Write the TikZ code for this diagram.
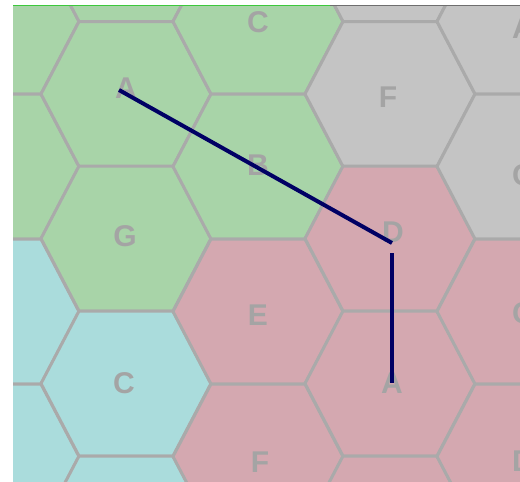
\documentclass[tikz,border=0pt]{standalone}
\usepackage{fontspec}
\setsansfont{Liberation Sans}
\definecolor{cellGreen}{RGB}{168,212,168}
\definecolor{cellGrey}{RGB}{196,196,196}
\definecolor{cellPink}{RGB}{212,168,176}
\definecolor{cellTeal}{RGB}{170,220,220}
\definecolor{edgeGrey}{RGB}{170,170,170}
\definecolor{tagGrey}{RGB}{164,164,164}
\definecolor{routeBlue}{RGB}{0,0,100}
\tikzset{
  pics/hexcell/.style={code={
    \path[draw=edgeGrey, line width=1.5pt, line join=round, fill=#1]
      (-85,0) -- (-47,-72.5) -- (47,-72.5) -- (85,0) -- (47,72.5) -- (-47,72.5) -- cycle;
  }},
  tag/.style={
    text=tagGrey,
    inner sep=0pt,
    font=\sffamily\bfseries\fontsize{15}{18}\selectfont
  },
  route/.style={draw=routeBlue, line width=2pt},
}

\begin{document}
\begin{tikzpicture}[x=0.5pt,y=-0.5pt]

\fill[white] (0,0) rectangle (520,482);
\path[use as bounding box] (0,0) rectangle (520,482);

\begin{scope}
\clip (13,5) rectangle (520,482);

% column 0
\pic at (-6,21.5) {hexcell=cellGreen};
\pic at (-6,166.5) {hexcell=cellGreen};
\pic at (-6,311.5) {hexcell=cellTeal};
\pic at (-6,456.5) {hexcell=cellTeal};
% column 1
\pic at (126,-51) {hexcell=cellGreen};
\pic at (126,94) {hexcell=cellGreen};
\pic at (126,238.5) {hexcell=cellGreen};
\pic at (126,383.5) {hexcell=cellTeal};
\pic at (126,528.5) {hexcell=cellTeal};
% column 2
\pic at (258,21.5) {hexcell=cellGreen};
\pic at (258,166.5) {hexcell=cellGreen};
\pic at (258,311.5) {hexcell=cellPink};
\pic at (258,456.5) {hexcell=cellPink};
% column 3
\pic at (390,-51) {hexcell=cellGrey};
\pic at (390,94) {hexcell=cellGrey};
\pic at (390,238.5) {hexcell=cellPink};
\pic at (390,383.5) {hexcell=cellPink};
\pic at (390,528.5) {hexcell=cellPink};
% column 4
\pic at (522,21.5) {hexcell=cellGrey};
\pic at (522,166.5) {hexcell=cellGrey};
\pic at (522,311.5) {hexcell=cellPink};
\pic at (522,456.5) {hexcell=cellPink};

\node[tag] (aOne) at (126,88) {A};
\node[tag] (gOne) at (125,236) {G};
\node[tag] (cOne) at (124,383) {C};
\node[tag] (cTwo) at (258,22) {C};
\node[tag] (bTwo) at (258,165) {B};
\node[tag] (eTwo) at (258,315) {E};
\node[tag] (fTwo) at (260,462) {F};
\node[tag] (fThree) at (388,97) {F};
\node[tag] (dThree) at (393,232) {D};
\node[tag] (aThree) at (392,383) {A};
\node[tag] (aFour) at (523,28) {A};
\node[tag] (cFour) at (523,175) {C};
\node[tag] (cFive) at (523,313) {C};
\node[tag] (dFour) at (523,461) {D};

\coordinate (start) at (119,90);
\coordinate (turnIn) at (392,243);
\coordinate (turnOut) at (392,253);
\draw[route] (start) -- (turnIn);
\draw[route] (turnOut) -- (aThree.center);

\draw[line width=0.5pt, draw={rgb,255:red,60;green,200;blue,60}] (13,5.5) -- (330,5.5);
\draw[line width=0.5pt, draw={rgb,255:red,110;green,110;blue,110}] (330,5.5) -- (520,5.5);
\end{scope}

\end{tikzpicture}
\end{document}
